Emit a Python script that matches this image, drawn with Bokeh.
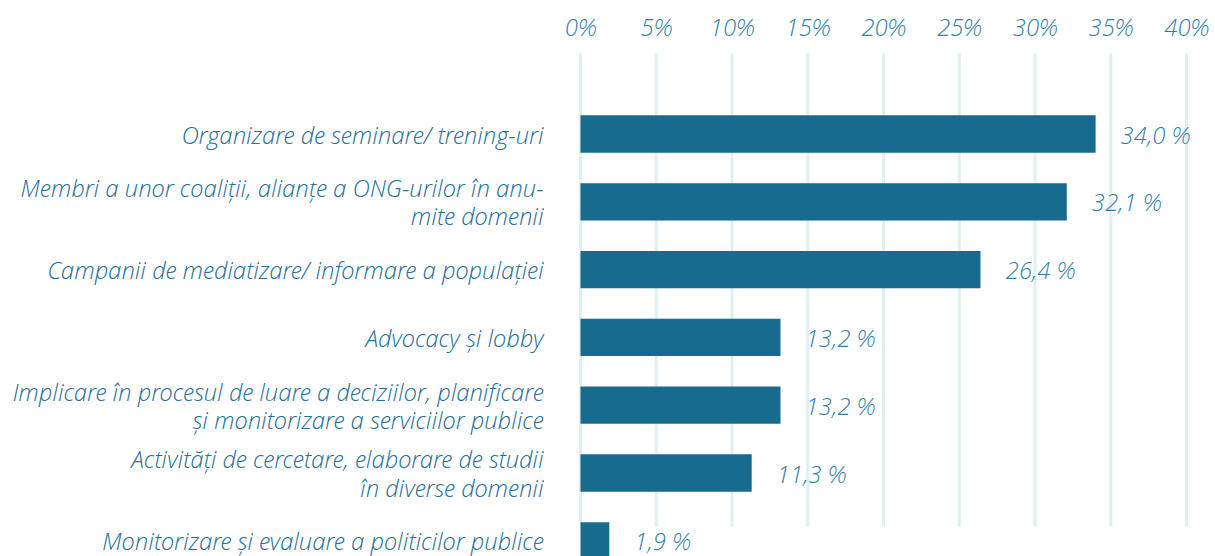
from bokeh.plotting import figure
from bokeh.models import Range1d, FixedTicker, ColumnDataSource, LinearAxis
from bokeh.core.properties import value
from bokeh.embed import file_html
from bokeh.resources import INLINE

categories = [
    "Organizare de seminare/ trening-uri",
    "Membri a unor coaliții, alianțe a ONG-urilor în anu-\nmite domenii",
    "Campanii de mediatizare/ informare a populației",
    "Advocacy și lobby",
    "Implicare în procesul de luare a deciziilor, planificare\nși monitorizare a serviciilor publice",
    "Activități de cercetare, elaborare de studii\nîn diverse domenii",
    "Monitorizare și evaluare a politicilor publice",
]
values = [34.0, 32.1, 26.4, 13.2, 13.2, 11.3, 1.9]
tick_values = [0, 5, 10, 15, 20, 25, 30, 35, 40]
tick_labels = ["0%", "5%", "10%", "15%", "20%", "25%", "30%", "35%", "40%"]

FONT = "Open Sans Light"
BAR = "#166b8e"
TXT = "#276f95"
TXT2 = "#3580a5"
GRID = "#dff0f0"

W, H = 1215, 556
TOP_BORDER = 50          # frame top in figure px
px_per_row = 67.8
row0 = 133.5
y_top = (TOP_BORDER - row0) / px_per_row
y_bot = (H - row0) / px_per_row

px_per_pct = 606 / 40.0
x0_px = 580
x_left = (0 - x0_px) / px_per_pct
x_right = (W - x0_px) / px_per_pct

p = figure(width=W, height=H, output_backend="svg", toolbar_location=None,
           x_range=Range1d(x_left, x_right), y_range=Range1d(y_bot, y_top),
           x_axis_location=None, y_axis_location=None,
           min_border_left=0, min_border_right=0, min_border_bottom=0,
           min_border_top=TOP_BORDER)
p.outline_line_color = None
p.background_fill_color = "white"
p.border_fill_color = "white"
p.xgrid.visible = False
p.ygrid.visible = False

ax = LinearAxis(ticker=FixedTicker(ticks=tick_values))
ax.major_label_overrides = {t: l for t, l in zip(tick_values, tick_labels)}
ax.axis_line_color = None
ax.major_tick_line_color = None
ax.minor_tick_line_color = None
ax.major_tick_out = 0
ax.major_tick_in = 0
ax.major_label_standoff = 8
ax.major_label_text_font = FONT
ax.major_label_text_font_style = "italic"
ax.major_label_text_font_size = "24px"
ax.major_label_text_color = TXT2
p.add_layout(ax, "above")

rows = list(range(len(categories)))
grid_top = (53 - row0) / px_per_row
grid_bot = (526 - row0) / px_per_row
p.segment(x0=tick_values, x1=tick_values, y0=[grid_top] * len(tick_values),
          y1=[grid_bot] * len(tick_values), line_color=GRID, line_width=3)

src = ColumnDataSource(dict(
    y=rows, v=values, cat=categories,
    lab=[("%.1f" % v).replace(".", ",") + " %" for v in values],
))
p.hbar(y="y", left=0, right="v", height=0.55, source=src,
       fill_color=BAR, line_color=None)
p.text(x=0, y="y", text="cat", source=src, x_offset=-37,
       text_align="right", text_baseline="middle",
       text_font=value(FONT), text_font_style="italic",
       text_font_size="24px", text_color=TXT, text_line_height=0.86)
p.text(x="v", y="y", text="lab", source=src, x_offset=25,
       text_align="left", text_baseline="middle",
       text_font=value(FONT), text_font_style="italic",
       text_font_size="24px", text_color=TXT2)

open("out.html", "w").write(file_html(p, INLINE))
